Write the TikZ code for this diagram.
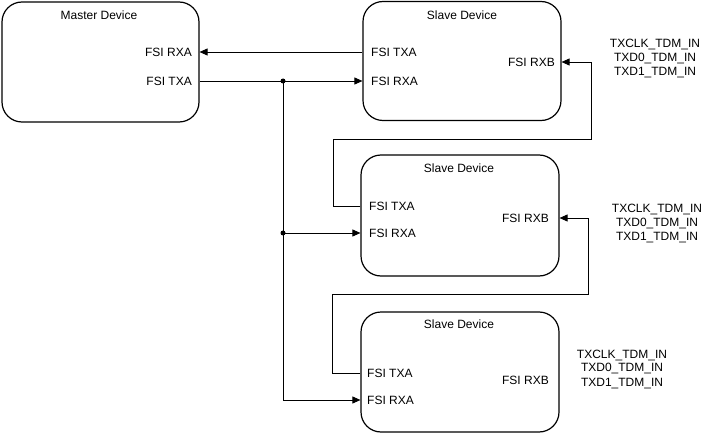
\documentclass[tikz,border=0pt]{standalone}
\usepackage{fontspec}
\setmainfont{Liberation Sans}
\usetikzlibrary{arrows.meta}
\tikzset{
  device/.style={draw, line width=1.2pt, rounded corners=20pt, inner sep=0pt},
  devtitle/.style={font=\fontsize{12}{14}\selectfont, inner sep=0pt},
  pinlabel/.style={font=\fontsize{12}{14}\selectfont, inner sep=0pt},
  tdmlabel/.style={font=\fontsize{12}{14}\selectfont, align=center, inner sep=0pt},
  wire/.style={line width=0.9pt},
  sig/.style={wire, -{Triangle[length=8pt,width=7pt]}},
  junction/.style={fill, circle, inner sep=0pt, minimum size=5pt}
}

\begin{document}
\begin{tikzpicture}[x=1pt, y=-1pt]
  \useasboundingbox (0,0) rectangle (704,433);

  % devices
  \node[device, minimum width=197pt, minimum height=120pt] (m) at (100.5,62) {};
  \node[device, minimum width=198pt, minimum height=119pt] (s1) at (462,61) {};
  \node[device, minimum width=198pt, minimum height=121pt] (s2) at (460,215.5) {};
  \node[device, minimum width=198pt, minimum height=120pt] (s3) at (460,372) {};

  \node[devtitle] (m-title) at (99,15) {Master Device};
  \node[devtitle] (s1-title) at (462,15) {Slave Device};
  \node[devtitle] (s2-title) at (459,168) {Slave Device};
  \node[devtitle] (s3-title) at (459,324) {Slave Device};

  % ports
  \node[pinlabel, anchor=east] (m-rxa) at (192,52) {FSI RXA};
  \node[pinlabel, anchor=east] (m-txa) at (192,81) {FSI TXA};

  \node[pinlabel, anchor=west] (s1-txa) at (371,52) {FSI TXA};
  \node[pinlabel, anchor=west] (s1-rxa) at (371,81) {FSI RXA};
  \node[pinlabel, anchor=east] (s1-rxb) at (555,62) {FSI RXB};

  \node[pinlabel, anchor=west] (s2-txa) at (369,206) {FSI TXA};
  \node[pinlabel, anchor=west] (s2-rxa) at (369,233) {FSI RXA};
  \node[pinlabel, anchor=east] (s2-rxb) at (549,218) {FSI RXB};

  \node[pinlabel, anchor=west] (s3-txa) at (367,373) {FSI TXA};
  \node[pinlabel, anchor=west] (s3-rxa) at (367,400) {FSI RXA};
  \node[pinlabel, anchor=east] (s3-rxb) at (549,380) {FSI RXB};

  % TDM inputs
  \node[tdmlabel] (s1-tdm) at (655,59) {TXCLK\_TDM\_IN\\TXD0\_TDM\_IN\\TXD1\_TDM\_IN};
  \node[tdmlabel] (s2-tdm) at (657,224) {TXCLK\_TDM\_IN\\TXD0\_TDM\_IN\\TXD1\_TDM\_IN};
  \node[tdmlabel] (s3-tdm) at (622,369) {TXCLK\_TDM\_IN\\TXD0\_TDM\_IN\\TXD1\_TDM\_IN};

  % bus
  \coordinate (j1) at (283,81);
  \coordinate (j2) at (283,233);
  \draw[sig] (s1.west |- s1-txa) -- (m.east |- m-rxa);
  \draw[sig] (m.east |- m-txa) -- (s1.west |- s1-rxa);
  \draw[sig] (j1) |- (s3.west |- s3-rxa);
  \draw[sig] (j2) -- (s2.west |- s2-rxa);
  \node[junction] at (j1) {};
  \node[junction] at (j2) {};

  % daisy chain
  \coordinate (k1) at (333,139);
  \coordinate (k2) at (591,139);
  \coordinate (k3) at (332,294);
  \coordinate (k4) at (588,294);
  \draw[sig] (s2.west |- s2-txa) -| (k1) -- (k2) |- (s1.east |- s1-rxb);
  \draw[sig] (s3.west |- s3-txa) -| (k3) -- (k4) |- (s2.east |- s2-rxb);
\end{tikzpicture}
\end{document}
